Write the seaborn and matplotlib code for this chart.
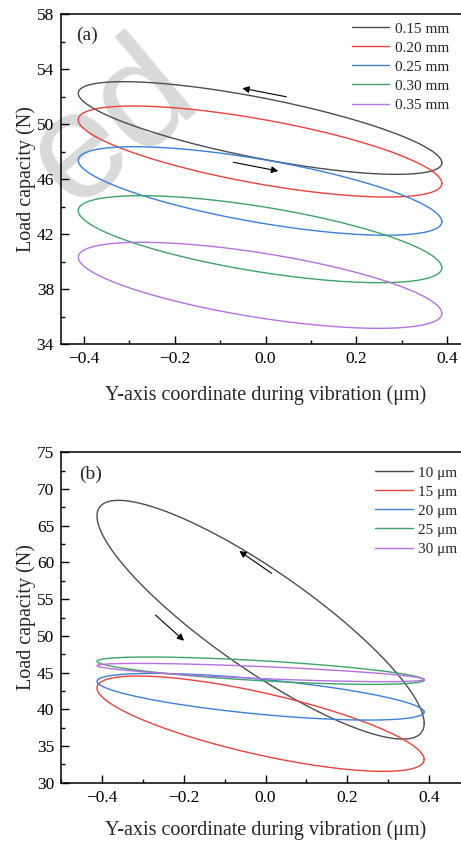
import numpy as np
import pandas as pd
import seaborn as sns
import matplotlib.pyplot as plt
from matplotlib.ticker import MultipleLocator, FixedLocator
from matplotlib.lines import Line2D

# ---------------- data ----------------
x_left = -0.412   # displacement at left turning point (um)
x_right = 0.388   # displacement at right turning point (um)

labels_a = ["0.15 mm", "0.20 mm", "0.25 mm", "0.30 mm", "0.35 mm"]
max_a = [53.10, 51.33, 48.37, 44.81, 41.42]      # highest load on loop (N)
min_a = [46.36, 44.71, 41.93, 38.48, 35.16]      # lowest load on loop (N)
right_a = [47.20, 45.71, 42.92, 39.57, 36.25]    # load at right turning point (N)

labels_b = ["10 μm", "15 μm", "20 μm", "25 μm", "30 μm"]
max_b = [68.46, 44.53, 44.89, 47.12, 46.25]
min_b = [35.94, 31.54, 38.53, 43.39, 43.76]
right_b = [38.08, 33.17, 39.62, 43.98, 44.07]

yticks_a = [34, 38, 42, 46, 50, 54, 58]
yticks_b = [30, 35, 40, 45, 50, 55, 60, 65, 70, 75]
xticks = [-0.4, -0.2, 0.0, 0.2, 0.4]

colors = ["#4d4d4d", "#e8423c", "#3b7fd9", "#3ea369", "#b571e0"]

# arrows (tail, head) in data coordinates
arrows_a = [((0.046, 52.00), (-0.051, 52.62)), ((-0.071, 47.24), (0.028, 46.60))]
arrows_b = [((0.015, 58.51), (-0.064, 61.56)), ((-0.269, 52.84), (-0.199, 49.34))]


def loops(labels, vmax, vmin, vright):
    t = np.linspace(0, 2 * np.pi, 721)
    xc = (x_left + x_right) / 2
    xa = (x_right - x_left) / 2
    rows = []
    for lab, hi, lo, r in zip(labels, vmax, vmin, vright):
        c = (hi + lo) / 2
        b = (hi - lo) / 2
        phi = np.arccos(np.clip((r - c) / b, -1, 1))
        x = xc + xa * np.cos(t)
        y = c + b * np.cos(t - phi)
        rows.append(pd.DataFrame({"x": x, "load": y, "series": lab}))
    return pd.concat(rows, ignore_index=True)


df_a = loops(labels_a, max_a, min_a, right_a)
df_b = loops(labels_b, max_b, min_b, right_b)

# ---------------- style ----------------
sns.set_theme(style="ticks")
plt.rcParams["font.family"] = ["Liberation Serif", "DejaVu Serif"]
plt.rcParams["axes.unicode_minus"] = True
plt.rcParams["axes.linewidth"] = 1.1
plt.rcParams["axes.edgecolor"] = "black"

fig = plt.figure(figsize=(4.61, 8.43), dpi=100)
W, H = 461, 843
ax_a = fig.add_axes([61 / W, 1 - 344.3 / H, 409 / W, 330 / H])
ax_b = fig.add_axes([61 / W, 1 - 782.7 / H, 409 / W, 330.4 / H])

# watermark
fig.text(202 / W, 1 - 100 / H, "ed", fontsize=110, color="#d9d9d9",
         family="Liberation Sans", rotation=40, rotation_mode="anchor",
         ha="right", va="baseline", zorder=-5)


def draw(ax, df, labels, xlim, ylim, yticks, ymin_, tag, arrows, legend_anchor, xpad):
    ax.set_facecolor("none")
    sns.lineplot(data=df, x="x", y="load", hue="series", hue_order=labels,
                 palette=colors, sort=False, estimator=None, units="series",
                 lw=1.0, ax=ax, legend=False)
    ax.set_xlim(*xlim)
    ax.set_ylim(*ylim)
    ax.xaxis.set_major_locator(FixedLocator(xticks))
    ax.xaxis.set_minor_locator(MultipleLocator(0.1))
    ax.yaxis.set_major_locator(FixedLocator(yticks))
    ax.yaxis.set_minor_locator(MultipleLocator(ymin_))
    ax.tick_params(which="both", direction="in", top=False, right=False,
                   width=1.0, colors="black", labelsize=12.5)
    ax.tick_params(which="major", length=5.5, pad=5)
    ax.tick_params(which="minor", length=3)
    ax.xaxis.set_major_formatter(plt.FuncFormatter(lambda v, p: f"{v:.1f}".replace("-", "\u2212")))
    ax.yaxis.set_major_formatter(plt.FuncFormatter(lambda v, p: f"{v:.0f}"))
    for s in ["top", "left", "bottom"]:
        ax.spines[s].set_visible(True)
    ax.spines["right"].set_visible(False)
    ax.set_xlabel("Y-axis coordinate during vibration (μm)", fontsize=14.5, labelpad=xpad)
    ax.set_ylabel("Load capacity (N)", fontsize=14.5, labelpad=0.5)
    ax.text(*tag[1:], tag[0], transform=ax.transAxes, fontsize=14, va="center", ha="left")
    for tail, head in arrows:
        ax.annotate("", xy=head, xytext=tail,
                    arrowprops=dict(arrowstyle="-|>", color="black", lw=0.8,
                                    mutation_scale=10, shrinkA=0, shrinkB=0))
    handles = [Line2D([], [], color=c, lw=1.0) for c in colors]
    ax.legend(handles, labels, loc="upper right", bbox_to_anchor=legend_anchor,
              frameon=False, fontsize=11, handlelength=2.45, handletextpad=0.35,
              labelspacing=0.35, borderaxespad=0, borderpad=0)


draw(ax_a, df_a, labels_a, (-0.45, 0.45), (34, 58), yticks_a, 2,
     ("(a)", 0.037, 0.937), arrows_a, ((449 - 61) / 409, (344.3 - 22) / 330), 13)
draw(ax_b, df_b, labels_b, (-0.5, 0.5), (30, 75), yticks_b, 2.5,
     ("(b)", 0.045, 0.933), arrows_b, ((457 - 61) / 409, (782.7 - 466) / 330.4), 10.5)

fig.savefig("out.png", dpi=100)
